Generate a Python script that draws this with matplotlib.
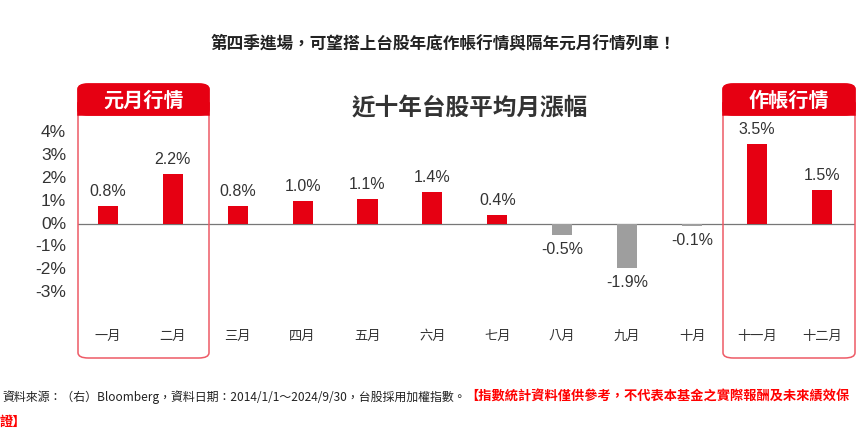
import matplotlib
matplotlib.use("Agg")
import matplotlib.pyplot as plt
from matplotlib.patches import FancyBboxPatch, Rectangle

plt.rcParams['font.family'] = ['Noto Sans CJK TC', 'DejaVu Sans']

months = ["一月", "二月", "三月", "四月", "五月", "六月", "七月", "八月", "九月", "十月", "十一月", "十二月"]
values = [0.8, 2.2, 0.8, 1.0, 1.1, 1.4, 0.4, -0.5, -1.9, -0.1, 3.5, 1.5]
labels = ["0.8%", "2.2%", "0.8%", "1.0%", "1.1%", "1.4%", "0.4%", "-0.5%", "-1.9%", "-0.1%", "3.5%", "1.5%"]
yticks = [4, 3, 2, 1, 0, -1, -2, -3]
ytick_labels = ["4%", "3%", "2%", "1%", "0%", "-1%", "-2%", "-3%"]

W, H = 866, 436
fig = plt.figure(figsize=(W / 100, H / 100), dpi=100)

def fx(x):
    return x / W

def fy(y):
    return 1 - y / H

RED = "#e60012"
GREY = "#9e9e9e"
BOX = "#ee5a66"
TXT = "#333333"

# axes: 0% at y=224px, 22.9px per 1%
ax_top, ax_bot = 120, 320
ppu = 22.9
ax = fig.add_axes([fx(78), fy(ax_bot), fx(855) - fx(78), (ax_bot - ax_top) / H])
ax.set_xlim(-0.46, 11.51)
ax.set_ylim(-(ax_bot - 224) / ppu, (224 - ax_top) / ppu)
ax.axis("off")

xs = list(range(len(months)))
colors = [RED if v >= 0 else GREY for v in values]
ax.bar(xs, values, width=0.31, color=colors, zorder=3)
ax.axhline(0, color="#777777", lw=0.9, zorder=2)

off = 7 / ppu
for x, v, lab in zip(xs, values, labels):
    if v >= 0:
        ax.text(x, v + off, lab, ha="center", va="bottom", fontsize=11.5,
                color=TXT, family=["Liberation Sans"])
    else:
        ax.text(x, v - off, lab, ha="center", va="top", fontsize=11.5,
                color=TXT, family=["Liberation Sans"])

for x, m in zip(xs, months):
    ax.text(x, -(336 - 224) / ppu, m, ha="center", va="center", fontsize=9.5,
            color=TXT, clip_on=False)

# y tick labels
for t, tl in zip(yticks, ytick_labels):
    fig.text(fx(66), fy(224 - t * ppu), tl, ha="right", va="center",
             fontsize=12.5, color=TXT, family=["Liberation Sans"])

# highlight boxes
def box(x0, x1, title):
    y0, y1 = 84, 358
    p = FancyBboxPatch((fx(x0), fy(y1)), fx(x1) - fx(x0), (y1 - y0) / H,
                       boxstyle="round,pad=0,rounding_size=0.012",
                       transform=fig.transFigure, facecolor="none",
                       edgecolor=BOX, lw=1.1, zorder=5)
    fig.add_artist(p)
    hdr = FancyBboxPatch((fx(x0), fy(115)), fx(x1) - fx(x0), (115 - y0) / H,
                         boxstyle="round,pad=0,rounding_size=0.012",
                         transform=fig.transFigure, facecolor=RED,
                         edgecolor=RED, lw=1.1, zorder=6)
    fig.add_artist(hdr)
    sq = Rectangle((fx(x0), fy(115)), fx(x1) - fx(x0), 12 / H,
                   transform=fig.transFigure, facecolor=RED, edgecolor=RED,
                   lw=1.1, zorder=6)
    fig.add_artist(sq)
    fig.text((fx(x0) + fx(x1)) / 2, fy(100), title, ha="center", va="center",
             fontsize=14.5, color="white", fontweight="bold", zorder=7)

box(78, 209, "元月行情")
box(723, 855, "作帳行情")

# titles
fig.text(fx(443), fy(43), "第四季進場，可望搭上台股年底作帳行情與隔年元月行情列車！",
         ha="center", va="center", fontsize=12, color="#222222", fontweight="bold")
fig.text(fx(470), fy(108), "近十年台股平均月漲幅", ha="center", va="center",
         fontsize=17, color="#333333", fontweight="bold")

# footnote
t1 = fig.text(fx(2), fy(397), "資料來源：（右）Bloomberg，資料日期：2014/1/1～2024/9/30，台股採用加權指數。",
              ha="left", va="center", fontsize=8.6, color="#222222")
fig.canvas.draw()
bb = t1.get_window_extent(renderer=fig.canvas.get_renderer())
x_end = bb.x1 / (W)
fig.text(x_end, fy(397), "【指數統計資料僅供參考，不代表本基金之實際報酬及未來績效保",
         ha="left", va="center", fontsize=9.5, color="#ff0000", fontweight="bold")
fig.text(fx(0), fy(422), "證】", ha="left", va="center", fontsize=9.5,
         color="#ff0000", fontweight="bold")

fig.savefig("out.png", dpi=100)
